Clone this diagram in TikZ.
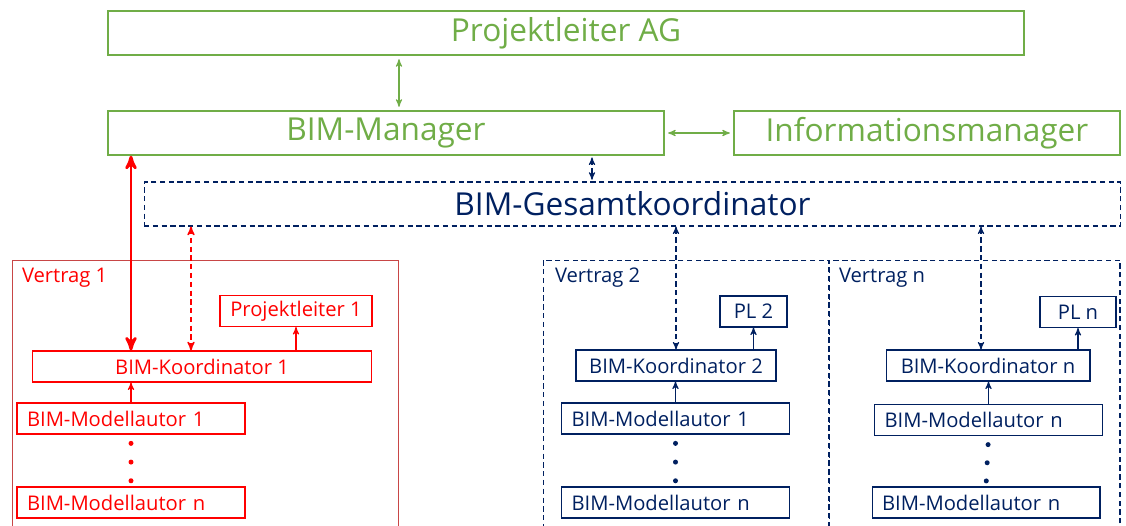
\documentclass[tikz,border=0pt]{standalone}
\usepackage{fontspec}
\setmainfont{Open Sans}
\usetikzlibrary{arrows,calc}
\definecolor{agGreen}{RGB}{112,173,71}
\definecolor{bimNavy}{RGB}{0,32,96}
\definecolor{bimRed}{RGB}{255,0,0}
\definecolor{vRed}{RGB}{200,70,70}

\begin{document}
\begin{tikzpicture}[<->,>=stealth',x=0.02cm,y=-0.02cm,semithick]
  \tikzstyle{big}=[draw=agGreen,text=agGreen,line width=0.8pt,minimum height=0.88cm,inner sep=0pt,font=\fontsize{18}{20}\selectfont]
  \tikzstyle{small}=[draw,line width=0.6pt,minimum height=0.62cm,inner sep=0pt,font=\fontsize{11.5}{13}\selectfont]
  \tikzstyle{redbox}=[small,draw=bimRed,text=bimRed]
  \tikzstyle{navybox}=[small,draw=bimNavy,text=bimNavy]
  \tikzstyle{autor}=[text width=4.16cm,align=left,inner xsep=0.2cm]
  \tikzstyle{vertrag}=[draw,line width=0.6pt,minimum height=5.6cm,inner sep=0pt]
  \tikzstyle{vlabel}=[anchor=north west,inner sep=0pt,font=\fontsize{11.5}{13}\selectfont]
  \tikzstyle{dashline}=[dash pattern=on 3pt off 2pt]

  \useasboundingbox (0,0) rectangle (1126,525);

  % Vertraege
  \node[vertrag,draw=vRed,minimum width=7.74cm]       (V1) at (205.5,400) {};
  \node[vertrag,draw=bimNavy,dashline,minimum width=5.72cm] (V2) at (686,400) {};
  \node[vertrag,draw=bimNavy,dashline,minimum width=5.82cm] (VN) at (974.5,400) {};
  \node[vlabel,text=bimRed]  (V1L) at ($(V1.north west)+(10,8)$) {Vertrag 1};
  \node[vlabel,text=bimNavy] (V2L) at ($(V2.north west)+(12,8)$) {Vertrag 2};
  \node[vlabel,text=bimNavy] (VNL) at ($(VN.north west)+(10,8)$) {Vertrag n};

  % obere Ebene
  \node[big,minimum width=18.32cm] (PAG) at (566,33)  {Projektleiter AG};
  \node[big,minimum width=11.12cm] (BM)  at (386,133) {BIM-Manager};
  \node[big,minimum width=7.72cm]  (IM)  at (927,133) {Informationsmanager};
  \node[big,draw=bimNavy,text=bimNavy,dashline,line width=0.6pt,minimum width=19.54cm]
                                   (BGK) at (632.5,204) {BIM-Gesamtkoordinator};

  % Vertrag 1
  \node[redbox,minimum width=3.04cm]  (PL1) at (296,311)   {Projektleiter 1};
  \node[redbox,minimum width=6.8cm]   (BK1) at (202,366.5) {BIM-Koordinator 1};
  \node[redbox,autor]                 (MA11) at (131,418.5) {BIM-Modellautor 1};
  \node[redbox,autor]                 (MAN1) at (131,502.5) {BIM-Modellautor n};

  % Vertrag 2
  \node[navybox,minimum width=1.34cm] (PL2) at (753.5,311.5) {PL 2};
  \node[navybox,minimum width=4cm]    (BK2) at (676,365.5)   {BIM-Koordinator 2};
  \node[navybox,autor]                (MA12) at (675.5,418.5) {BIM-Modellautor 1};
  \node[navybox,autor]                (MAN2) at (675.5,502.5) {BIM-Modellautor n};

  % Vertrag n
  \node[navybox,minimum width=1.52cm] (PLN) at (1078,312)  {PL n};
  \node[navybox,minimum width=4.08cm] (BKN) at (988,365.5) {BIM-Koordinator n};
  \node[navybox,autor]                (MA1N) at (988.5,420) {BIM-Modellautor n};
  \node[navybox,autor]                (MANN) at (986,502.5) {BIM-Modellautor n};

  \coordinate (c0) at (399,0);
  \coordinate (c1) at (592,0);
  \coordinate (c2) at (191,0);
  \coordinate (c3) at (981,0);

  \path (PAG.south -| c0) edge[agGreen,shorten <=2pt,shorten >=2pt] (BM.north -| c0)
        (BM.east)         edge[agGreen,shorten <=2pt,shorten >=2pt] (IM.west)
        (BM.south -| c1)  edge[bimNavy,dashline,shorten <=1pt,shorten >=1pt] (BGK.north -| c1)
        (BM.south -| MA11.north) edge[bimRed,line width=1.6pt] (BK1.north -| MA11.north)
        (BGK.south -| c2) edge[bimRed,dashline,thick] (BK1.north -| c2)
        (BGK.south -| BK2.north) edge[bimNavy,dashline] (BK2.north)
        (BGK.south -| c3) edge[bimNavy,dashline] (BKN.north -| c3)
        (BK1.north -| PL1.south) edge[->,bimRed] (PL1.south)
        (BK2.north -| PL2.south) edge[->,bimNavy] (PL2.south)
        (BKN.north -| PLN.south) edge[->,bimNavy] (PLN.south)
        (MA11.north) edge[->,bimRed] (MA11.north |- BK1.south)
        (MA12.north) edge[->,bimNavy] (MA12.north |- BK2.south)
        (MA1N.north) edge[->,bimNavy] (MA1N.north |- BKN.south);

  % Punkte
  \foreach \f in {0.17,0.53,0.89}{
    \fill[bimRed]  ($(MA11.south)!\f!(MAN1.north)$) circle (0.05cm);
    \fill[bimNavy] ($(MA12.south)!\f!(MAN2.north)$) circle (0.05cm);
    \fill[bimNavy] ($(MA1N.south)!\f!(MANN.north)$) circle (0.05cm);
  }
\end{tikzpicture}
\end{document}
